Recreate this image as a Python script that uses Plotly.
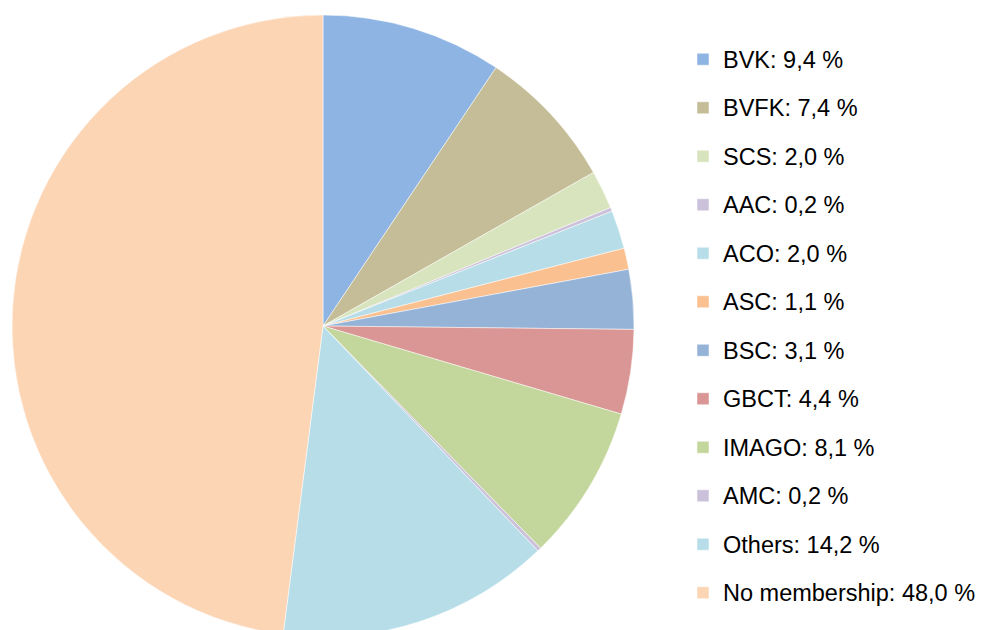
import plotly.graph_objects as go

labels = ["BVK", "BVFK", "SCS", "AAC", "ACO", "ASC", "BSC", "GBCT", "IMAGO", "AMC", "Others", "No membership"]
values = [9.4, 7.4, 2.0, 0.2, 2.0, 1.1, 3.1, 4.4, 8.1, 0.2, 14.2, 48.0]
value_text = ["9,4", "7,4", "2,0", "0,2", "2,0", "1,1", "3,1", "4,4", "8,1", "0,2", "14,2", "48,0"]
colors = ["#8EB4E3", "#C4BD97", "#D7E4BD", "#CCC1DA", "#B7DEE8", "#FAC090",
          "#95B3D7", "#D99694", "#C3D69B", "#CCC1DA", "#B7DEE8", "#FCD5B5"]

legend_labels = [f'<span style="font-size:23.5px;baseline-shift:5px">{l}: {v} %</span>'
                 for l, v in zip(labels, value_text)]

W, H = 985, 630
T = 6
PH = H - T
fig = go.Figure(go.Pie(
    labels=legend_labels,
    values=values,
    marker=dict(colors=colors, line=dict(color="#FFFFFF", width=0.5)),
    sort=False,
    direction="clockwise",
    rotation=0,
    textinfo="none",
    hoverinfo="label+percent",
    domain=dict(x=[4 / W, 626 / W], y=[0, 1]),
))

fig.update_layout(
    width=W, height=H,
    margin=dict(l=0, r=0, t=T, b=0, autoexpand=False),
    paper_bgcolor="white",
    plot_bgcolor="white",
    font=dict(family="Liberation Sans, Arial, sans-serif", color="#000000"),
    legend=dict(
        x=675 / W, xanchor="left",
        y=1 - 16 / PH, yanchor="top",
        font=dict(size=35, color="#000000"),
        bgcolor="rgba(0,0,0,0)",
    ),
    showlegend=True,
)

fig.write_html("out.html")
